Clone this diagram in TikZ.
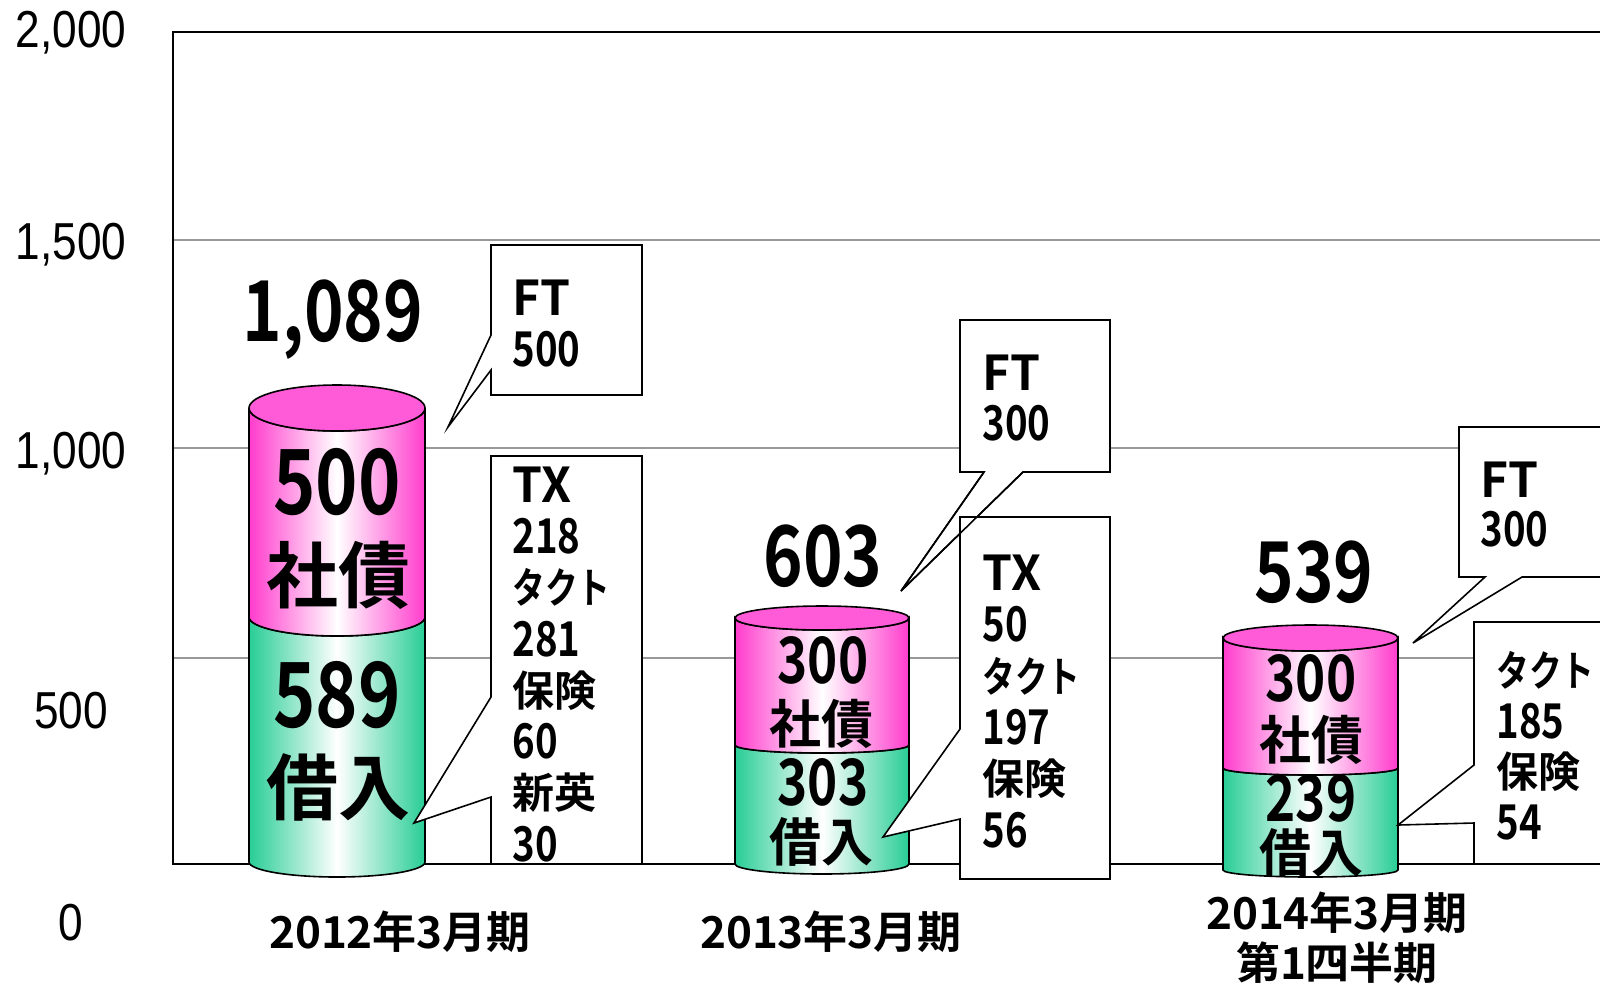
\documentclass[tikz,border=0pt]{standalone}
\usepackage{fontspec}
\newfontfamily\jpb{Noto Sans CJK JP Bold}
\newfontfamily\numb{Noto Sans CJK JP Bold}[FakeStretch=0.8]
\newfontfamily\kana{Noto Sans CJK JP Bold}[FakeStretch=0.78]
\newfontfamily\axe{Liberation Sans}[FakeStretch=0.85]
\newcommand{\tnum}{\numb\fontsize{24}{24}\selectfont}
\newcommand{\tlat}{\jpb\fontsize{24}{24}\selectfont}
\newcommand{\tjp}{\jpb\fontsize{21}{21}\selectfont}
\newcommand{\tkana}{\kana\fontsize{21}{21}\selectfont}
\definecolor{rose}{RGB}{255,60,205}
\definecolor{rosehaut}{RGB}{255,90,215}
\definecolor{vert}{RGB}{40,205,150}
\tikzset{
  bord/.style={draw=black, line width=0.8pt},
  grille/.style={draw=gray!80, line width=0.7pt},
  cadre/.style={draw=black, line width=1pt},
  bulle/.style={draw=black, fill=white, line width=0.8pt, line join=miter},
  texte/.style={anchor=west, inner sep=0pt},
  n1/.style={inner sep=0pt, font=\numb\fontsize{45}{45}\selectfont},
  k1/.style={inner sep=0pt, font=\jpb\fontsize{36}{36}\selectfont},
  n2/.style={inner sep=0pt, font=\numb\fontsize{32}{32}\selectfont},
  k2/.style={inner sep=0pt, font=\jpb\fontsize{26}{26}\selectfont},
  total/.style={inner sep=0pt, font=\numb\fontsize{42}{42}\selectfont},
  cat/.style={inner sep=0pt, font=\jpb\fontsize{22}{22}\selectfont},
  axelab/.style={inner sep=0pt, font=\axe\fontsize{26}{26}\selectfont}
}
% cylindre : centre x, rayon x, bas, ry bas, milieu, ry milieu, haut, ry haut
\newcommand{\cylindre}[8]{%
  \draw[bord, left color=vert, right color=vert, middle color=white]
    ({#1-#2},#3) arc[start angle=180, end angle=0, x radius=#2, y radius=#4]
    -- ({#1+#2},#5) arc[start angle=0, end angle=180, x radius=#2, y radius=#6] -- cycle;
  \draw[bord, left color=rose, right color=rose, middle color=white]
    ({#1-#2},#5) arc[start angle=180, end angle=0, x radius=#2, y radius=#6]
    -- ({#1+#2},#7) arc[start angle=0, end angle=180, x radius=#2, y radius=#8] -- cycle;
  \draw[bord, fill=rosehaut] (#1,#7) ellipse[x radius=#2, y radius=#8];
}
\begin{document}
\begin{tikzpicture}[x=0.5pt, y=-0.5pt]
    \useasboundingbox (0,0) rectangle (1600,982);
    \clip (0,0) rectangle (1600,982);
    % Grille et cadre
    \foreach \y in {240,448,658} {
        \draw[grille] (173,\y) -- (1650,\y);}
    \draw[cadre] (173,32) rectangle (1650,864);
    % Axe vertical
    \foreach \v/\y [count=\i] in {{2,000}/33, {1,500}/245, {1,000}/454, 500/711, 0/923} {
        \node[axelab] (ax\i) at (71,\y) {\v};}
    % Cylindres
    \cylindre{337}{88}{862}{15}{617}{19}{408}{23}
    \cylindre{822}{87}{864}{10}{745}{8}{618}{12}
    \cylindre{1310.5}{87.5}{870}{7}{768}{7}{638}{13}
    % Valeurs dans les cylindres
    \node[total] (tot1) at (333,320) {1,089};
    \node[n1] (sha1) at (337,482) {500};
    \node[k1] (ksha1) at (338,575) {社債};
    \node[n1] (kar1) at (337,695) {589};
    \node[k1] (kkar1) at (338,787) {借入};
    \node[total] (tot2) at (823,556) {603};
    \node[n2] (sha2) at (823,660) {300};
    \node[k2] (ksha2) at (821,724) {社債};
    \node[n2] (kar2) at (823,782) {303};
    \node[k2] (kkar2) at (821,842) {借入};
    \node[total] (tot3) at (1314,572) {539};
    \node[n2] (sha3) at (1311,678) {300};
    \node[k2] (ksha3) at (1311,740) {社債};
    \node[n2] (kar3) at (1311,798) {239};
    \node[k2] (kkar3) at (1311,853) {借入};
    % Bulles 2012
    \draw[bulle] (491,245) -- (491,335) -- (448,427) -- (491,370) -- (491,395) -- (642,395) -- (642,245) -- cycle;
    \draw[bulle] (491,456) -- (491,697) -- (414,823) -- (491,797) -- (491,864) -- (642,864) -- (642,456) -- cycle;
    \foreach \t [count=\i] in {{\tlat FT},{\tnum 500}} {
        \node[texte] (ft1-\i) at (512,{298+51*(\i-1)}) {\t};}
    \foreach \t [count=\i] in {{\tlat TX},{\tnum 218},{\tkana タクト},{\tnum 281},{\tjp 保険},{\tnum 60},{\tjp 新英},{\tnum 30}} {
        \node[texte] (tx1-\i) at (512,{485+51.3*(\i-1)}) {\t};}
    % Bulles 2013
    \draw[bulle] (960,517) rectangle (1110,879);
    \draw[bulle] (960,320) -- (960,472) -- (984,472) -- (901,591) -- (1023,472) -- (1110,472) -- (1110,320) -- cycle;
    \draw[bulle] (960,517) -- (960,729) -- (883,837) -- (960,819) -- (960,879) -- (1110,879) -- (1110,517) -- cycle;
    \draw[bord] (960,517) -- (1110,517); % bord haut repasse
    \draw[bord] (984,472) -- (901,591) -- (1023,472);
    \foreach \t [count=\i] in {{\tlat FT},{\tnum 300}} {
        \node[texte] (ft2-\i) at (982,{373+50*(\i-1)}) {\t};}
    \foreach \t [count=\i] in {{\tlat TX},{\tnum 50},{\tkana タクト},{\tnum 197},{\tjp 保険},{\tnum 56}} {
        \node[texte] (tx2-\i) at (982,{573+51.4*(\i-1)}) {\t};}
    % Bulles 2014
    \draw[bulle] (1459,427) -- (1459,577) -- (1485,577) -- (1413,643) -- (1522,577) -- (1650,577) -- (1650,427) -- cycle;
    \draw[bulle] (1474,622) -- (1474,765) -- (1398,825) -- (1474,823) -- (1474,864) -- (1650,864) -- (1650,622) -- cycle;
    \foreach \t [count=\i] in {{\tlat FT},{\tnum 300}} {
        \node[texte] (ft3-\i) at (1480,{480+49*(\i-1)}) {\t};}
    \foreach \t [count=\i] in {{\tkana タクト},{\tnum 185},{\tjp 保険},{\tnum 54}} {
        \node[texte] (t3-\i) at (1496,{670+50.7*(\i-1)}) {\t};}
    % Periodes
    \node[cat] (p1) at (400,932) {2012年3月期};
    \node[cat] (p2) at (831,932) {2013年3月期};
    \node[cat] (p3) at (1337,913) {2014年3月期};
    \node[cat] (p3b) at (1337,963) {第1四半期};
\end{tikzpicture}
\end{document}
